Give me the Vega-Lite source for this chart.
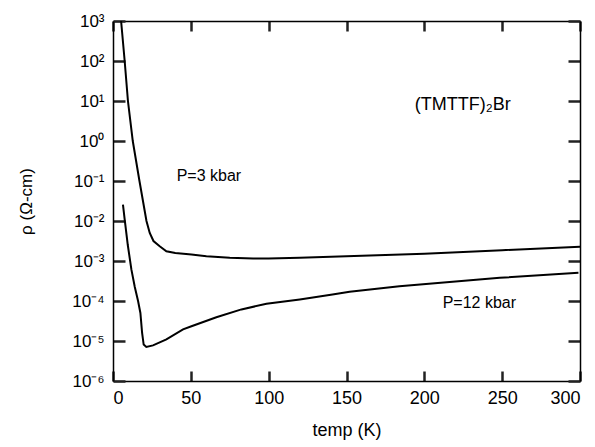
{
  "$schema": "https://vega.github.io/schema/vega-lite/v6.json",
  "width": 467,
  "height": 360,
  "autosize": "none",
  "padding": {"left": 113, "top": 21, "right": 15, "bottom": 66},
  "background": "white",
  "config": {
    "font": "Liberation Sans",
    "view": {"stroke": null},
    "axis": {"grid": false, "domainColor": "black", "labelColor": "black", "titleColor": "black", "domainWidth": 1.5, "labelFont": "Liberation Sans", "titleFont": "Liberation Sans", "titleFontWeight": "normal"}
  },
  "datasets": {
    "curves": [
      {"series": "3", "temp": 5.2, "rho": 1000},
      {"series": "3", "temp": 7.5, "rho": 100},
      {"series": "3", "temp": 9.6, "rho": 10},
      {"series": "3", "temp": 12.7, "rho": 1},
      {"series": "3", "temp": 17, "rho": 0.1},
      {"series": "3", "temp": 21.5, "rho": 0.01},
      {"series": "3", "temp": 23.6, "rho": 0.005012},
      {"series": "3", "temp": 26, "rho": 0.003162},
      {"series": "3", "temp": 30, "rho": 0.002344},
      {"series": "3", "temp": 34.3, "rho": 0.001758},
      {"series": "3", "temp": 40, "rho": 0.001585},
      {"series": "3", "temp": 50.4, "rho": 0.001445},
      {"series": "3", "temp": 60, "rho": 0.001318},
      {"series": "3", "temp": 75, "rho": 0.001202},
      {"series": "3", "temp": 90, "rho": 0.001148},
      {"series": "3", "temp": 100, "rho": 0.001148},
      {"series": "3", "temp": 120, "rho": 0.001202},
      {"series": "3", "temp": 150, "rho": 0.001318},
      {"series": "3", "temp": 175, "rho": 0.001413},
      {"series": "3", "temp": 200, "rho": 0.001514},
      {"series": "3", "temp": 250, "rho": 0.001862},
      {"series": "3", "temp": 300, "rho": 0.002265},
      {"series": "12", "temp": 6.4, "rho": 0.0257},
      {"series": "12", "temp": 7.5, "rho": 0.01096},
      {"series": "12", "temp": 9.5, "rho": 0.00251},
      {"series": "12", "temp": 11.8, "rho": 0.000617},
      {"series": "12", "temp": 14, "rho": 0.000224},
      {"series": "12", "temp": 16.1, "rho": 0.0001},
      {"series": "12", "temp": 17.6, "rho": 0.0000501},
      {"series": "12", "temp": 18.7, "rho": 0.00001585},
      {"series": "12", "temp": 19.7, "rho": 0.00000813},
      {"series": "12", "temp": 21.4, "rho": 0.00000708},
      {"series": "12", "temp": 25.7, "rho": 0.00000776},
      {"series": "12", "temp": 34.3, "rho": 0.00001096},
      {"series": "12", "temp": 45, "rho": 0.0000195},
      {"series": "12", "temp": 50.4, "rho": 0.00002344},
      {"series": "12", "temp": 66.4, "rho": 0.00003936},
      {"series": "12", "temp": 82.5, "rho": 0.00006166},
      {"series": "12", "temp": 98.6, "rho": 0.00008511},
      {"series": "12", "temp": 120, "rho": 0.0001096},
      {"series": "12", "temp": 141, "rho": 0.0001445},
      {"series": "12", "temp": 152, "rho": 0.0001698},
      {"series": "12", "temp": 184, "rho": 0.0002344},
      {"series": "12", "temp": 248.5, "rho": 0.0003802},
      {"series": "12", "temp": 299, "rho": 0.000507}
    ],
    "labels": [
      {"temp": 193.8, "rho": 8.1, "text": "(TMTTF)₂Br", "size": 18},
      {"temp": 40.9, "rho": 0.132, "text": "P=3 kbar", "size": 16},
      {"temp": 211.8, "rho": 0.000091, "text": "P=12 kbar", "size": 16}
    ]
  },
  "layer": [
    {
      "data": {"name": "curves"},
      "mark": {"type": "line", "color": "black", "strokeWidth": 2, "clip": true},
      "encoding": {
        "x": {
          "field": "temp", "type": "quantitative",
          "scale": {"domain": [0, 300], "nice": false, "zero": false},
          "axis": {"orient": "bottom", "values": [0, 50, 100, 150, 200, 250, 300], "tickSize": -10, "tickColor": "#222222", "tickWidth": 2.5, "labelPadding": 18, "labelFontSize": 18, "title": "temp (K)", "titleFontSize": 18, "titlePadding": 14}
        },
        "y": {
          "field": "rho", "type": "quantitative",
          "scale": {"type": "log", "domain": [0.000001, 1000], "nice": false},
          "axis": {"orient": "left", "values": [0.000001, 0.00001, 0.0001, 0.001, 0.01, 0.1, 1, 10, 100, 1000], "tickSize": -12, "tickColor": "#222222", "tickWidth": 2.5, "labelPadding": 21, "labelFontSize": 17, "labelExpr": "'10' + (round(log(datum.value)/LN10) < 0 ? '⁻' : '') + ['⁰','¹','²','³','⁴','⁵','⁶'][abs(round(log(datum.value)/LN10))]", "title": "ρ (Ω-cm)", "titleFontSize": 17, "titlePadding": 36}
        },
        "detail": {"field": "series"}
      }
    },
    {
      "data": {"name": "labels"},
      "mark": {"type": "text", "align": "left", "baseline": "middle", "color": "black", "font": "Liberation Sans"},
      "encoding": {
        "x": {"field": "temp", "type": "quantitative", "axis": {"orient": "top", "values": [0, 50, 100, 150, 200, 250, 300], "tickSize": -10, "tickColor": "#222222", "tickWidth": 2.5, "labels": false, "title": null}},
        "y": {"field": "rho", "type": "quantitative", "axis": {"orient": "right", "values": [0.000001, 0.00001, 0.0001, 0.001, 0.01, 0.1, 1, 10, 100, 1000], "tickSize": -12, "tickColor": "#222222", "tickWidth": 2.5, "labels": false, "title": null}},
        "text": {"field": "text"},
        "size": {"field": "size", "type": "quantitative", "scale": null}
      }
    }
  ],
  "resolve": {"axis": {"x": "independent", "y": "independent"}}
}
